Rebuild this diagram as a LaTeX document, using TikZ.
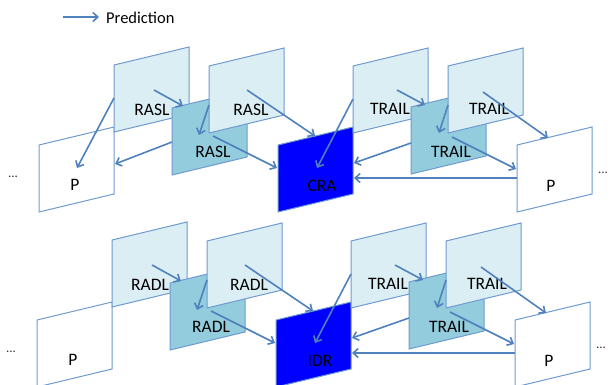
\documentclass[tikz,border=0pt]{standalone}
\usepackage{fontspec}
\setmainfont{Carlito}
\usetikzlibrary{arrows.meta}
\definecolor{edgec}{HTML}{6F9AD0}
\definecolor{arr}{HTML}{4F81BD}
\definecolor{lightfr}{HTML}{DBEEF4}
\definecolor{midfr}{HTML}{93CDDD}
\definecolor{keyfr}{HTML}{0000FF}
\tikzset{
  framebox/.style={draw=edgec, line width=1pt, line join=miter},
  pred/.style={draw=arr, line width=1.6pt, -{Straight Barb[length=5pt,width=9pt]}},
  lbl/.style={font=\fontsize{16.5}{18}\selectfont, inner sep=0pt, text=black},
  frlbl/.style={font=\fontsize{17.5}{19}\selectfont, inner sep=0pt, text=black},
  dotlbl/.style={font=\fontsize{13}{15}\selectfont, inner sep=0pt, text=black!80}
}
% name, x, y, fill, text, label dx, label dy
\newcommand\frm[7]{%
  \coordinate (#1) at (#2,#3);
  \path[framebox, fill=#4] (#1) -- ++(75,-18) -- ++(0,67) -- ++(-75,18) -- cycle;
  \node[frlbl] (#1-l) at ([shift={(#6,#7)}]#1) {#5};
}
% prefix, key label, side label
\newcommand\rowpic[3]{%
  \frm{#1p1}{39}{145}{white}{P}{36}{40}
  \frm{#1r1}{114}{65}{lightfr}{#3}{38}{45}
  \frm{#1m}{172}{108}{midfr}{#3}{41}{44}
  \frm{#1r2}{209}{66}{lightfr}{#3}{42}{44}
  \frm{#1c}{278}{145}{keyfr}{#2}{44}{41}
  \frm{#1t1}{353}{66}{lightfr}{TRAIL}{37}{43}
  \frm{#1tm}{411}{107}{midfr}{TRAIL}{40}{45}
  \frm{#1t2}{448}{66}{lightfr}{TRAIL}{41}{43}
  \frm{#1p2}{517}{145}{white}{P}{34}{41}
  \node[dotlbl] (#1dl) at (13,177) {...};
  \node[dotlbl] (#1dr) at (603,173) {...};
  \draw[pred] ([shift={(40,25)}]#1r1) -- ([shift={(11,-2)}]#1m);
  \draw[pred] ([shift={(0,39)}]#1r2) -- ([shift={(27,27)}]#1m);
  \draw[pred] ([shift={(41,28)}]#1m) -- ([shift={(-1,23)}]#1c);
  \draw[pred] ([shift={(38,24)}]#1r2) -- ([shift={(37,-9)}]#1c);
  \draw[pred] ([shift={(0,33)}]#1t1) -- ([shift={(39,23)}]#1c);
  \draw[pred] ([shift={(44,24)}]#1t1) -- ([shift={(14,-2)}]#1tm);
  \draw[pred] ([shift={(0,39)}]#1t2) -- ([shift={(28,26)}]#1tm);
  \draw[pred] ([shift={(0,36)}]#1tm) -- ([shift={(76,18)}]#1c);
  \draw[pred] ([shift={(41,30)}]#1tm) -- ([shift={(-1,24)}]#1p2);
  \draw[pred] ([shift={(35,26)}]#1t2) -- ([shift={(31,-7)}]#1p2);
  \draw[pred] ([shift={(0,33)}]#1p2) -- ([shift={(76,33)}]#1c);
}
\begin{document}
\begin{tikzpicture}[x=1pt,y=-1pt]
  \useasboundingbox (0,0) rectangle (610,384);
  % legend
  \coordinate (ls) at (63,17);
  \coordinate (le) at (99,17);
  \draw[pred] (ls) -- (le);
  \node[lbl, anchor=west] (leg) at (106,18) {Prediction};
  % top row
  \rowpic{a}{CRA}{RASL}
  \draw[pred] ([shift={(0,33)}]ar1) -- ([shift={(38,23)}]ap1);
  \draw[pred] ([shift={(0,34)}]am) -- ([shift={(76,19)}]ap1);
  % bottom row
  \begin{scope}[shift={(-2,175)}]
    \rowpic{b}{IDR}{RADL}
  \end{scope}
\end{tikzpicture}
\end{document}
